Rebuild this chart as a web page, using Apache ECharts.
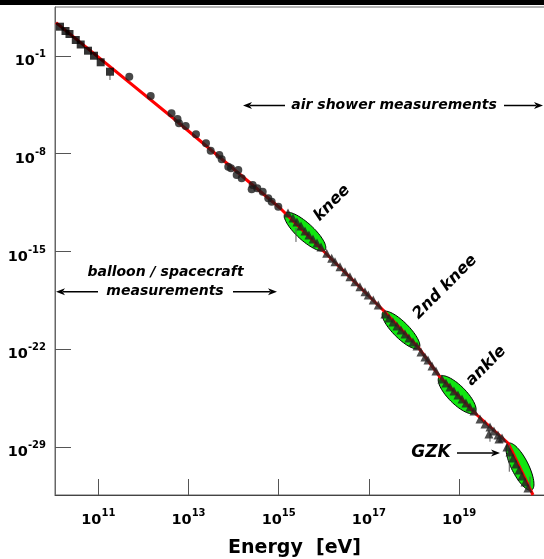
<!DOCTYPE html>
<html><head><meta charset="utf-8">
<script src="https://cdn.jsdelivr.net/npm/echarts@6/dist/echarts.min.js"></script>
<style>html,body{margin:0;padding:0;background:#fff}#c{width:544px;height:559px}</style>
</head><body><div id="c"></div>
<script>
// all values are log10(E/eV) and log10(flux)
const xTicks = [11, 13, 15, 17, 19];
const yTicks = [-29, -22, -15, -8, -1];
const fitLine = [[10.062,1.385],[12.656,-5.441],[15.029,-11.888],[17.313,-19.195],[18.089,-21.845],[18.577,-23.994],[19.397,-26.716],[20.084,-28.722],[20.639,-32.447]];
const balloonSquares = [[10.151,1.099],[10.273,0.791],[10.361,0.576],[10.501,0.146],[10.610,-0.176],[10.772,-0.620],[10.905,-0.979],[11.053,-1.451],[11.259,-2.125]];
const circlePts = [[11.687,-2.483],[12.162,-3.865],[12.623,-5.104],[12.756,-5.513],[12.789,-5.821],[12.938,-6.014],[13.166,-6.609],[13.388,-7.253],[13.492,-7.783],[13.683,-8.091],[13.736,-8.399],[13.882,-8.929],[13.942,-9.044],[14.104,-9.166],[14.068,-9.524],[14.179,-9.760],[14.423,-10.240],[14.401,-10.548],[14.525,-10.477],[14.645,-10.720],[14.769,-11.193],[14.844,-11.437],[14.991,-11.795]];
const trianglePts = [[15.206,-12.246],[15.317,-12.604],[15.405,-12.891],[15.494,-13.177],[15.583,-13.535],[15.671,-13.822],[15.760,-14.108],[15.849,-14.395],[15.938,-14.681],[16.064,-15.133],[16.175,-15.491],[16.248,-15.734],[16.359,-16.093],[16.470,-16.451],[16.580,-16.809],[16.691,-17.167],[16.802,-17.525],[16.913,-17.883],[16.986,-18.120],[17.097,-18.478],[17.208,-18.836],[17.356,-19.481],[17.445,-19.767],[17.533,-20.054],[17.622,-20.340],[17.711,-20.626],[17.800,-20.913],[17.888,-21.199],[17.977,-21.486],[18.066,-21.772],[18.155,-22.202],[18.243,-22.560],[18.310,-22.775],[18.399,-23.205],[18.487,-23.563],[18.620,-24.136],[18.709,-24.423],[18.798,-24.710],[18.886,-24.996],[18.975,-25.283],[19.064,-25.569],[19.152,-25.856],[19.241,-26.142],[19.330,-26.429],[19.463,-27.002],[19.574,-27.360],[19.685,-27.575],[19.662,-28.076],[19.773,-27.861],[19.862,-28.148],[19.884,-28.434],[19.951,-28.363],[20.062,-29.007],[20.128,-29.365],[20.195,-29.795],[20.261,-30.225],[20.328,-30.655],[20.394,-31.085],[20.461,-31.514],[20.527,-31.944]];
const errorBars = [[11.259,-2.361,-2.719],[15.383,-13.32,-14.32],[19.685,-27.91,-28.63],[19.907,-28.15,-28.72],[20.113,-28.86,-30.78],[20.572,-31.13,-31.85]];
// feature regions: major-axis end points
const regionNames = ['knee', '2nd knee', 'ankle', 'GZK'];
const regionAxes = [[15.140,-12.268,16.027,-14.897],[17.313,-19.338,18.111,-21.917],[18.561,-23.973,19.353,-26.551],[20.091,-28.745,20.610,-32.089]];

const FONT = '"DejaVu Sans", sans-serif';
const regionHalfWidth = [8.5, 8, 9, 8.5];

const chart = echarts.init(document.getElementById('c'), null, {renderer: 'canvas'});

function arrow(x1, y1, x2, y2) {
  const dx = x2 - x1, dy = y2 - y1, L = Math.hypot(dx, dy);
  const ux = dx / L, uy = dy / L;
  const hl = 9, hw = 3.5;
  const bx = x2 - ux * hl, by = y2 - uy * hl;
  return [
    {type: 'line', shape: {x1: x1, y1: y1, x2: bx + ux * 2, y2: by + uy * 2}, style: {stroke: '#000', lineWidth: 1.5}},
    {type: 'polygon', shape: {points: [[x2, y2], [bx - uy * hw, by + ux * hw], [bx + ux * 2.5, by + uy * 2.5], [bx + uy * hw, by - ux * hw]]}, style: {fill: '#000'}}
  ];
}
function label(text, x, y, size, rot) {
  return {type: 'text', x: x, y: y, rotation: rot || 0,
    style: {text: text, font: 'italic bold ' + size + 'px ' + FONT, fill: '#000',
      align: 'center', verticalAlign: 'middle', textAlign: 'center', textVerticalAlign: 'middle'}};
}

const graphics = [
  {type: 'rect', shape: {x: 0, y: 0, width: 544, height: 5}, style: {fill: '#000'}},
  label('air shower measurements', 394, 105, 14),
  ...arrow(285, 105.5, 243, 105.5),
  ...arrow(504, 105.5, 543, 105.5),
  label('balloon / spacecraft', 165.5, 272.5, 14),
  label('measurements', 165, 291.5, 14),
  ...arrow(98, 291.7, 56, 291.7),
  ...arrow(233, 291.7, 277, 291.7),
  label(regionNames[0], 332, 203, 16, Math.PI / 4),
  label(regionNames[1], 445, 287, 16, Math.PI / 4),
  label(regionNames[2], 486, 366, 16, Math.PI / 4),
  label(regionNames[3], 431, 453, 17, 0),
  ...arrow(457, 453, 500, 453)
];

const supRich = {
  b: {fontSize: 14.5, fontWeight: 'bold', fontFamily: FONT, color: '#000'},
  s: {fontSize: 10, fontWeight: 'bold', fontFamily: FONT, color: '#000', padding: [0, 0, 14, 0]}
};

chart.setOption({
  animation: false,
  backgroundColor: '#fff',
  grid: {left: 55, top: 7, right: -2, bottom: 64, containLabel: false, outerBoundsMode: 'none',
    show: true, borderColor: '#666', borderWidth: 1},
  xAxis: {
    type: 'value', min: 10.04, max: 10.04 + 491 / 45.1,
    name: 'Energy  [eV]', nameLocation: 'middle', nameGap: 44,
    nameTextStyle: {fontSize: 19, fontWeight: 'bold', fontFamily: FONT, color: '#000', padding: [0, 12, 0, 0]},
    axisLine: {onZero: false, lineStyle: {color: '#444', width: 1}},
    axisTick: {inside: true, length: 16, customValues: xTicks, lineStyle: {color: '#555'}},
    axisLabel: {customValues: xTicks, margin: 13, formatter: v => '{b|10}{s|' + v + '}', rich: supRich},
    splitLine: {show: false}
  },
  yAxis: {
    type: 'value', min: 2.51 - 488 / 13.96, max: 2.51,
    axisLine: {show: true, onZero: false, lineStyle: {color: '#666', width: 1}},
    axisTick: {inside: true, length: 16, customValues: yTicks, lineStyle: {color: '#555'}},
    axisLabel: {customValues: yTicks, margin: 9, padding: [11, 0, 0, 0], formatter: v => '{b|10}{s|' + v + '}', rich: supRich},
    splitLine: {show: false}
  },
  graphic: graphics,
  series: [
    {
      type: 'custom', z: 1, data: regionAxes.map((a, i) => a.concat([i])),
      renderItem: function (params, api) {
        const p1 = api.coord([api.value(0), api.value(1)]);
        const p2 = api.coord([api.value(2), api.value(3)]);
        const b = regionHalfWidth[api.value(4)];
        const cx = (p1[0] + p2[0]) / 2, cy = (p1[1] + p2[1]) / 2;
        const a = Math.hypot(p2[0] - p1[0], p2[1] - p1[1]) / 2;
        const th = Math.atan2(p2[1] - p1[1], p2[0] - p1[0]);
        const pts = [];
        for (let k = 0; k < 72; k++) {
          const t = k / 72 * Math.PI * 2;
          const ex = a * Math.cos(t), ey = b * Math.sin(t);
          pts.push([cx + ex * Math.cos(th) - ey * Math.sin(th), cy + ex * Math.sin(th) + ey * Math.cos(th)]);
        }
        return {type: 'polygon', shape: {points: pts}, style: {fill: '#10e610', stroke: '#000', lineWidth: 1}};
      }
    },
    {
      type: 'line', z: 2, data: fitLine, symbol: 'none', smooth: false,
      lineStyle: {color: '#ff0000', width: 3}
    },
    {
      type: 'custom', z: 3, data: errorBars,
      renderItem: function (params, api) {
        const p1 = api.coord([api.value(0), api.value(1)]);
        const p2 = api.coord([api.value(0), api.value(2)]);
        return {type: 'line', shape: {x1: p1[0], y1: p1[1], x2: p2[0], y2: p2[1]}, style: {stroke: '#555', lineWidth: 1}};
      }
    },
    {type: 'scatter', z: 4, data: balloonSquares, symbol: 'rect', symbolSize: 8, itemStyle: {color: '#000'}},
    {type: 'scatter', z: 4, data: circlePts, symbol: 'circle', symbolSize: 8, itemStyle: {color: '#1a1a1a'}},
    {type: 'scatter', z: 4, data: trianglePts, symbol: 'triangle', symbolSize: 9, itemStyle: {color: '#222'}}
  ]
});
</script>
</body></html>
